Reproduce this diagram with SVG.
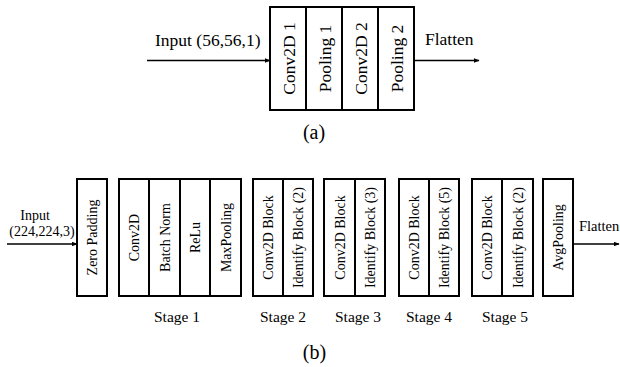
<svg xmlns="http://www.w3.org/2000/svg" width="620" height="367" viewBox="0 0 620 367">
<style>
text{font-family:"Liberation Serif","Times New Roman",serif;fill:#000}
.box{fill:#fff;stroke:#000;stroke-width:2}
.ln{stroke:#000;stroke-width:2}
.arr{stroke:#000;stroke-width:1.6;fill:none;marker-end:url(#ah)}
.va{font-size:17.5px;text-anchor:middle}
.vb{font-size:14px;text-anchor:middle}
.lbl{font-size:17.5px}
.stg{font-size:15.5px;text-anchor:middle}
.cap{font-size:20px;text-anchor:middle}
</style>
<defs>
<marker id="ah" viewBox="0 0 10 8" refX="9" refY="4" markerWidth="6" markerHeight="4.8" markerUnits="userSpaceOnUse" orient="auto"><path d="M0,0L10,4L0,8Z" fill="#000"/></marker>
</defs>
<g id="connectors">
<line class="arr" x1="147" y1="60.5" x2="270" y2="60.5"/>
<line class="arr" x1="414" y1="60.5" x2="479" y2="60.5"/>
<line class="arr" x1="7" y1="244" x2="77" y2="244"/>
<line class="arr" x1="573" y1="244" x2="619" y2="244"/>
</g>
<g id="a-block">
<rect class="box" x="270" y="7" width="144" height="103"/>
<line class="ln" x1="306" y1="7" x2="306" y2="110"/>
<line class="ln" x1="342" y1="7" x2="342" y2="110"/>
<line class="ln" x1="378" y1="7" x2="378" y2="110"/>
<text class="va" transform="translate(294.5,58.5) rotate(-90)">Conv2D 1</text>
<text class="va" transform="translate(330.5,58.5) rotate(-90)">Pooling 1</text>
<text class="va" transform="translate(366.5,58.5) rotate(-90)">Conv2D 2</text>
<text class="va" transform="translate(402.5,58.5) rotate(-90)">Pooling 2</text>
</g>
<g id="a-labels">
<text class="lbl" x="155" y="46">Input (56,56,1)</text>
<text class="lbl" x="425" y="45">Flatten</text>
<text class="cap" x="314" y="139">(a)</text>
</g>
<g id="zero-padding">
<rect class="box" x="77" y="179" width="30" height="117"/>
<text class="vb" transform="translate(97,237.5) rotate(-90)">Zero Padding</text>
</g>
<g id="stage1">
<rect class="box" x="119" y="179" width="122" height="117"/>
<line class="ln" x1="149" y1="179" x2="149" y2="296"/>
<line class="ln" x1="180" y1="179" x2="180" y2="296"/>
<line class="ln" x1="210" y1="179" x2="210" y2="296"/>
<text class="vb" transform="translate(139,237.5) rotate(-90)">Conv2D</text>
<text class="vb" transform="translate(169.5,237.5) rotate(-90)">Batch Norm</text>
<text class="vb" transform="translate(200,237.5) rotate(-90)">ReLu</text>
<text class="vb" transform="translate(230.5,237.5) rotate(-90)">MaxPooling</text>
<text class="stg" x="177" y="322">Stage 1</text>
</g>
<g id="stage2">
<rect class="box" x="253" y="179" width="60" height="117"/>
<line class="ln" x1="283" y1="179" x2="283" y2="296"/>
<text class="vb" transform="translate(273,237.5) rotate(-90)">Conv2D Block</text>
<text class="vb" transform="translate(303,237.5) rotate(-90)">Identify Block (2)</text>
<text class="stg" x="283" y="322">Stage 2</text>
</g>
<g id="stage3">
<rect class="box" x="324" y="179" width="61" height="117"/>
<line class="ln" x1="355" y1="179" x2="355" y2="296"/>
<text class="vb" transform="translate(344.5,237.5) rotate(-90)">Conv2D Block</text>
<text class="vb" transform="translate(375,237.5) rotate(-90)">Identify Block (3)</text>
<text class="stg" x="358" y="322">Stage 3</text>
</g>
<g id="stage4">
<rect class="box" x="399" y="179" width="60" height="117"/>
<line class="ln" x1="429" y1="179" x2="429" y2="296"/>
<text class="vb" transform="translate(419,237.5) rotate(-90)">Conv2D Block</text>
<text class="vb" transform="translate(449,237.5) rotate(-90)">Identify Block (5)</text>
<text class="stg" x="429" y="322">Stage 4</text>
</g>
<g id="stage5">
<rect class="box" x="472" y="179" width="61" height="117"/>
<line class="ln" x1="502" y1="179" x2="502" y2="296"/>
<text class="vb" transform="translate(492,237.5) rotate(-90)">Conv2D Block</text>
<text class="vb" transform="translate(522.5,237.5) rotate(-90)">Identify Block (2)</text>
<text class="stg" x="505" y="322">Stage 5</text>
</g>
<g id="avgpooling">
<rect class="box" x="543" y="179" width="30" height="117"/>
<text class="vb" transform="translate(563,237.5) rotate(-90)">AvgPooling</text>
</g>
<g id="b-labels">
<text class="vb" x="35" y="220">Input</text>
<text class="vb" x="42" y="236">(224,224,3)</text>
<text x="579" y="231" style="font-size:14.5px">Flatten</text>
<text class="cap" x="314.5" y="359">(b)</text>
</g>
</svg>
